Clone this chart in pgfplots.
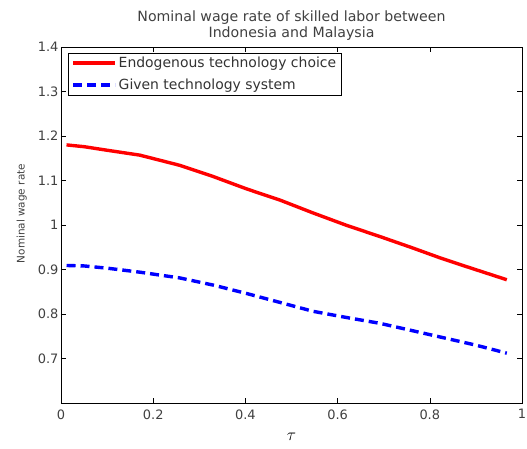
\documentclass[border=0pt]{standalone}
\usepackage{pgfplots}
\pgfplotsset{compat=1.18}
\usepackage{fontspec}
\setmainfont{DejaVu Sans}

\begin{document}
\begin{tikzpicture}
  \useasboundingbox (-61bp,-46bp) rectangle (466bp,403bp);
  \begin{axis}[
      at={(0,0)}, anchor=south west,
      scale only axis,
      width=461bp, height=356bp,
      xmin=0, xmax=1, ymin=0.6, ymax=1.4,
      xtick={0,0.2,...,1},
      ytick={0.7,0.8,...,1.4},
      tick align=inside,
      major tick length=5bp,
      tick style={black, line width=0.6pt},
      axis line style={line width=0.8pt},
      /pgf/number format/assume math mode=true,
      /pgf/number format/fixed,
      ticklabel style={font=\fontsize{13}{15}\selectfont, color=black!75},
      yticklabel style={/pgf/number format/precision=1, xshift=1bp},
      xticklabel style={yshift=-3bp},
      title={Nominal wage rate of skilled labor between\\Indonesia and Malaysia},
      title style={align=center, font=\fontsize{14.2}{16.5}\selectfont, color=black!75, yshift=-3bp},
      xlabel={$\tau$},
      xlabel style={font=\fontsize{17}{19}\selectfont, yshift=-7bp},
      ylabel={Nominal wage rate},
      ylabel style={at={(axis description cs:-0.085,0.532)}, anchor=center,
        font=\fontsize{10.5}{12}\selectfont, color=black!75},
      legend style={
        at={(rel axis cs:0.0152,0.984)}, anchor=north west,
        font=\fontsize{14}{16}\selectfont,
        text=black!80,
        draw=black, line width=0.6pt,
        inner xsep=3bp, inner ysep=2bp,
        row sep=6bp,
      },
      legend cell align=left,
      legend image code/.code={
        \draw[#1] (0bp,0bp) -- (42bp,0bp);
      },
    ]
    \addplot[red, line width=3.4bp] coordinates {
      (0.012, 1.180) (0.050, 1.176) (0.100, 1.168) (0.171, 1.157)
      (0.258, 1.134) (0.330, 1.109) (0.403, 1.081) (0.475, 1.056)
      (0.547, 1.027) (0.620, 0.999) (0.692, 0.974) (0.764, 0.948)
      (0.820, 0.927) (0.872, 0.909) (0.967, 0.877)
    };
    \addlegendentry{Endogenous technology choice}
    \addplot[blue, line width=3.4bp, dash pattern=on 9bp off 5bp] coordinates {
      (0.012, 0.909) (0.050, 0.908) (0.100, 0.903) (0.171, 0.894)
      (0.258, 0.881) (0.330, 0.865) (0.403, 0.846) (0.475, 0.826)
      (0.547, 0.806) (0.620, 0.792) (0.692, 0.779) (0.807, 0.752)
      (0.900, 0.730) (0.967, 0.712)
    };
    \addlegendentry{Given technology system}
  \end{axis}
\end{tikzpicture}
\end{document}
